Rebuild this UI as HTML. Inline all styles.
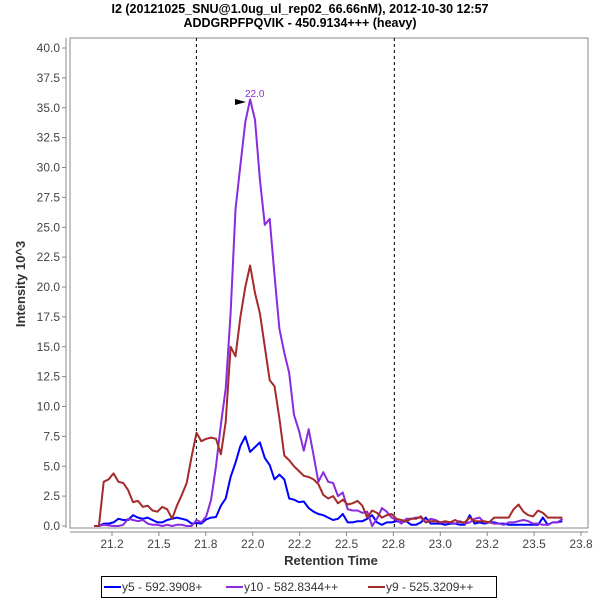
<!DOCTYPE html>
<html><head><meta charset="utf-8"><style>
body{margin:0;background:#fff;font-family:"Liberation Sans",sans-serif}
svg text{font-family:"Liberation Sans","DejaVu Sans",sans-serif}
</style></head><body>
<svg width="600" height="600" xmlns="http://www.w3.org/2000/svg">
<rect width="600" height="600" fill="#fff"/>
<text x="300" y="13" text-anchor="middle" font-size="12.5" font-weight="bold">I2 (20121025_SNU@1.0ug_ul_rep02_66.66nM), 2012-10-30 12:57</text>
<text x="300" y="27" text-anchor="middle" font-size="12.5" font-weight="bold">ADDGRPFPQVIK - 450.9134+++ (heavy)</text>
<rect x="70" y="38" width="518" height="490" fill="#fff" stroke="#888"/>
<g id="axes"></g>
<g id="series"></g>
<text x="245" y="97" font-size="10" fill="#8a2be2">22.0</text>
<polygon points="235,99 246,102 235,105" fill="#000"/>
<text x="331" y="565" text-anchor="middle" font-size="13" font-weight="bold" fill="#333">Retention Time</text>
<text transform="translate(25,284) rotate(-90)" text-anchor="middle" font-size="13" font-weight="bold" fill="#333">Intensity 10^3</text>
<g>
<rect x="101.5" y="576.5" width="395" height="21" fill="#fff" stroke="#000"/>
<g><line x1="104" y1="587" x2="121" y2="587" stroke="#0000ff" stroke-width="2"/><text x="122" y="591" font-size="12" fill="#333">y5 - 592.3908+</text></g>
<g><line x1="226" y1="587" x2="243" y2="587" stroke="#8a2be2" stroke-width="2"/><text x="244" y="591" font-size="12" fill="#333">y10 - 582.8344++</text></g>
<g><line x1="368" y1="587" x2="385" y2="587" stroke="#a52a2a" stroke-width="2"/><text x="386" y="591" font-size="12" fill="#333">y9 - 525.3209++</text></g>
</g>
</svg>
<script>
const yTicks=[0,2.5,5,7.5,10,12.5,15,17.5,20,22.5,25,27.5,30,32.5,35,37.5,40];
const xTicks=[21.25,21.5,21.75,22,22.25,22.5,22.75,23,23.25,23.5,23.75];
const xTickLabels=["21.2","21.5","21.8","22.0","22.2","22.5","22.8","23.0","23.2","23.5","23.8"];
const boundaries=[21.70,22.755];
const tStart=21.154, tStep=0.02601;
const y5=[0,0,0.2,0.2,0.3,0.6,0.5,0.5,0.9,0.7,0.6,0.7,0.5,0.3,0.3,0.5,0.6,0.7,0.6,0.5,0.2,
0.25,0.2,0.55,0.7,0.75,1.7,2.3,4.1,5.3,6.7,7.5,6.2,6.6,7.0,5.7,5.1,3.9,4.3,3.9,2.3,2.2,2.0,2.05,1.5,
1.2,1.0,0.9,0.7,0.5,0.6,1.0,0.3,0.3,0.4,0.4,0.6,0.9,0.3,0.1,0.3,0.3,0.4,0.3,0.4,0.1,0.1,0.3,0.7,0.2,0.2,0.2,0.1,0.2,0.2,0.1,0.1,0.9,0.2,0.3,0.2,0.3,0.3,0.2,0.2,0.1,0.1,0.1,0.1,0.1,0.1,0.1,0.7,0.1,0.3,0.3,0.4];
const y10=[0,0,0.1,0.05,0,0,0.1,0.6,0.5,0.4,0.5,0.2,0.1,0.1,0,0.1,0,0.1,0.1,0,0,0.5,0.3,0.8,2.2,5.0,8.5,11.5,17.8,26.5,30.2,33.8,35.7,34.0,29.0,25.2,25.7,21.0,16.5,14.5,12.8,9.3,8.0,6.3,8.1,5.9,3.7,4.5,3.7,3.6,2.5,2.8,1.4,1.3,1.3,1.1,1.2,0.0,0.6,1.5,1.2,0.7,0.5,0.2,0.6,0.6,0.7,0.7,0.3,0.6,0.5,0.3,0.3,0.3,0.2,0.4,0.2,0.3,0.6,0.7,0.3,0.3,0.2,0.2,0.1,0.3,0.3,0.4,0.5,0.4,0.2,0.2,0.1,0.1,0.3,0.3,0.6];
const y9=[0,0,3.7,3.9,4.4,3.7,3.6,3.0,2.0,2.1,1.6,1.7,1.3,1.2,1.6,1.4,0.6,1.7,2.6,3.6,5.8,7.8,7.1,7.3,7.4,7.3,6.0,8.7,15.0,14.2,17.5,20.0,21.8,19.5,17.8,15.0,12.2,11.7,9.0,5.9,5.5,5.0,4.6,4.2,4.1,3.9,3.5,2.6,2.3,2.5,1.9,2.2,1.8,1.9,2.1,1.7,0.7,1.3,1.1,0.7,0.9,1.0,0.6,0.5,0.4,0.6,0.6,0.8,0.3,0.4,0.4,0.3,0.4,0.3,0.5,0.3,0.3,0.7,0.4,0.4,0.4,0.3,0.7,0.7,0.7,0.7,1.4,1.8,1.2,0.9,0.8,1.3,1.1,0.7,0.7,0.7,0.7];
const NS="http://www.w3.org/2000/svg";
function X(t){return 112+(t-21.25)*187.6;}
function Y(v){return 526-v*11.95;}
function mk(tag,attrs,parent){const e=document.createElementNS(NS,tag);for(const k in attrs)e.setAttribute(k,attrs[k]);parent.appendChild(e);return e;}
const ax=document.getElementById('axes');
mk('line',{x1:66,y1:38,x2:66,y2:528,stroke:'#888'},ax);
mk('line',{x1:70,y1:532,x2:588,y2:532,stroke:'#888'},ax);
yTicks.forEach(v=>{
  mk('line',{x1:62,y1:Y(v),x2:66,y2:Y(v),stroke:'#888'},ax);
  const t=mk('text',{x:60,y:Y(v)+4,'text-anchor':'end','font-size':'12',fill:'#444'},ax);
  t.textContent=v.toFixed(1);
  
  
});
xTicks.forEach((v,i)=>{
  mk('line',{x1:X(v),y1:532,x2:X(v),y2:536,stroke:'#888'},ax);
  const t=mk('text',{x:X(v),y:548,'text-anchor':'middle','font-size':'12',fill:'#444'},ax);
  t.textContent=xTickLabels[i];
  
  
});
boundaries.forEach(b=>{
  const l=mk('line',{x1:X(b),y1:38,x2:X(b),y2:528,stroke:'#000','stroke-dasharray':'3,3','stroke-width':'1'},ax);
  
  
});
const sg=document.getElementById('series');
[[y5,'#0000ff','series-y5'],[y10,'#8a2be2','series-y10'],[y9,'#a52a2a','series-y9']].forEach(s=>{
  const pts=s[0].map((v,i)=>X(tStart+i*tStep).toFixed(1)+','+Y(v).toFixed(1)).join(' ');
  const p=mk('polyline',{points:pts,fill:'none',stroke:s[1],'stroke-width':'2','stroke-linejoin':'round'},sg);
  
  
});
</script>
</body></html>
